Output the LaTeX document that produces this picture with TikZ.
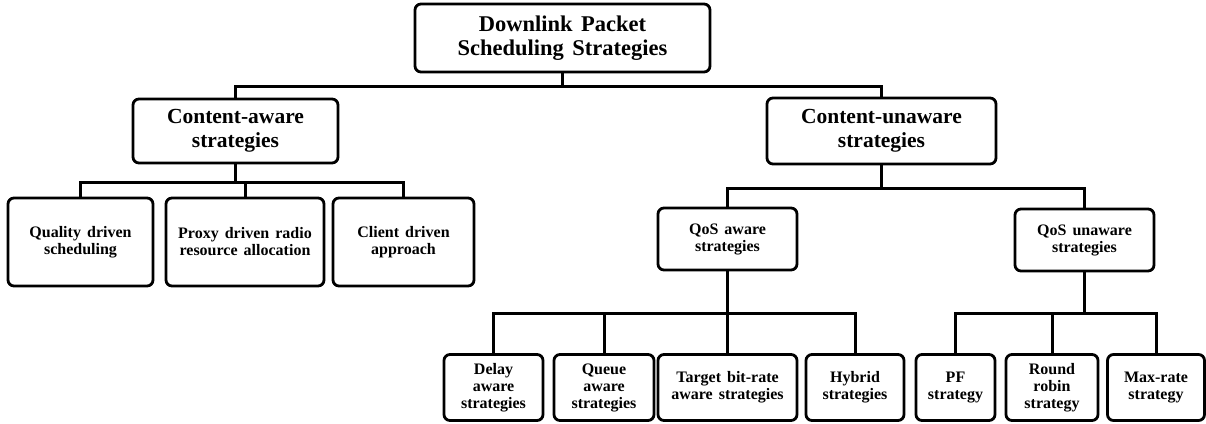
\documentclass[tikz,border=0pt]{standalone}
\usepackage{fontspec}
\setmainfont{Liberation Serif}
\newcommand\widewords{\spaceskip=0.38em\relax}
\begin{document}
\begin{tikzpicture}[x=1pt,y=-1pt,
  box/.style={draw=black, line width=2.8pt, rounded corners=6pt, fill=white,
    align=center, inner sep=1pt, text=black, execute at begin node=\widewords},
  rootfont/.style={font=\fontsize{22.5}{24.5}\selectfont\bfseries},
  midfont/.style={font=\fontsize{21.5}{24}\selectfont\bfseries},
  smallfont/.style={font=\fontsize{16}{17}\selectfont\bfseries},
  conn/.style={draw=black, line width=3pt},
  topconn/.style={draw=black, line width=2.3pt}]
\useasboundingbox (0,0) rectangle (1206,423);
\fill[white] (0,0) rectangle (1206,423);

% root
\node[box, rootfont, minimum width=295pt, minimum height=68pt] (root) at (562.5,38)
  {Downlink Packet\\Scheduling Strategies};

% second level
\node[box, midfont, minimum width=205pt, minimum height=64pt] (ca) at (235.5,131)
  {Content-aware\\strategies};
\node[box, midfont, minimum width=229pt, minimum height=66pt] (cu) at (881.5,131)
  {Content-unaware\\strategies};

% content-aware children
\node[box, smallfont, minimum width=145pt, minimum height=88pt] (q1) at (80.5,242)
  {Quality driven\\scheduling};
\node[box, smallfont, minimum width=158pt, minimum height=88pt] (q2) at (245,242)
  {Proxy driven radio\\resource allocation};
\node[box, smallfont, minimum width=141pt, minimum height=88pt] (q3) at (403.5,242)
  {Client driven\\approach};

% content-unaware children
\node[box, smallfont, minimum width=139pt, minimum height=62pt] (qa) at (727.5,239)
  {QoS aware\\strategies};
\node[box, smallfont, minimum width=139pt, minimum height=62pt] (qu) at (1084.5,240)
  {QoS unaware\\strategies};

% QoS aware leaves
\node[box, smallfont, minimum width=99pt, minimum height=66pt] (d1) at (493.5,387.5)
  {Delay\\aware\\strategies};
\node[box, smallfont, minimum width=100pt, minimum height=66pt] (d2) at (604,387.5)
  {Queue\\aware\\strategies};
\node[box, smallfont, minimum width=139pt, minimum height=66pt] (d3) at (727.5,387.5)
  {Target bit-rate\\aware strategies};
\node[box, smallfont, minimum width=98pt, minimum height=66pt] (d4) at (855,387.5)
  {Hybrid\\strategies};

% QoS unaware leaves
\node[box, smallfont, minimum width=79pt, minimum height=66pt] (e1) at (955.5,387.5)
  {PF\\strategy};
\node[box, smallfont, minimum width=92pt, minimum height=66pt] (e2) at (1052,387.5)
  {Round\\robin\\strategy};
\node[box, smallfont, minimum width=97pt, minimum height=66pt] (e3) at (1156,387.5)
  {Max-rate\\strategy};

% connectors
\draw[topconn] (root.south) -- ++(0,13) -| (ca.north);
\draw[topconn] (root.south) -- ++(0,13) -| (cu.north);

\foreach \c in {q1,q2,q3}
  \draw[conn] (ca.south) -- ++(0,18) -| (\c.north);
\foreach \c in {qa,qu}
  \draw[conn] (cu.south) -- ++(0,23) -| (\c.north);
\foreach \c in {d1,d2,d3,d4}
  \draw[conn] (qa.south) -- ++(0,42) -| (\c.north);
\foreach \c in {e1,e2,e3}
  \draw[conn] (qu.south) -- ++(0,41) -| (\c.north);
\end{tikzpicture}
\end{document}
